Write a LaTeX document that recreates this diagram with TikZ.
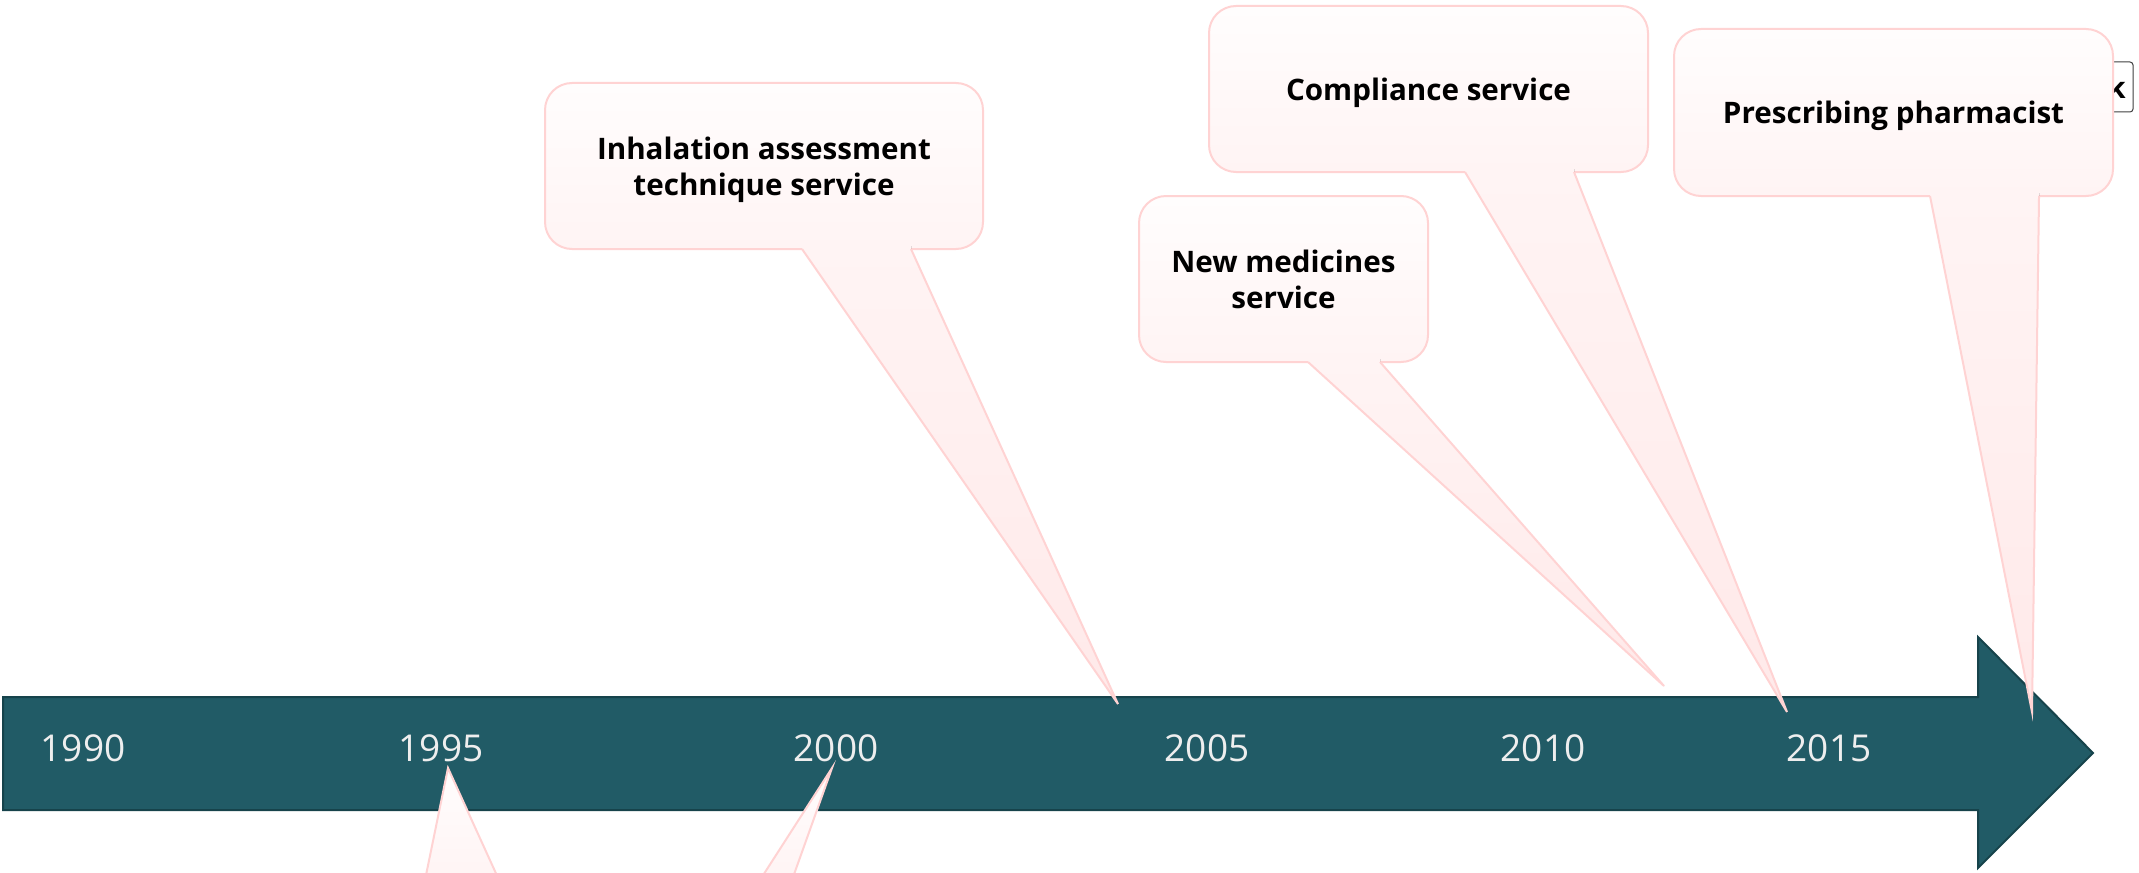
\documentclass[tikz,border=0pt]{standalone}
\usepackage{fontspec}
\setmainfont{Open Sans}
\usetikzlibrary{calc}

\definecolor{barteal}{HTML}{215B66}
\definecolor{barrim}{HTML}{16434B}
\definecolor{calloutrim}{HTML}{FFD3D3}
\definecolor{callouttop}{HTML}{FFFDFD}
\definecolor{calloutmid}{HTML}{FFF4F4}
\definecolor{callouttip}{HTML}{FFE9E9}
\definecolor{yeartext}{HTML}{EEEEEE}

\tikzset{
  calloutbox/.style={draw=calloutrim, line width=1pt, rounded corners=13.5pt, top color=callouttop, bottom color=calloutmid, align=center, font=\fontsize{14.8}{18}\selectfont\bfseries, inner sep=0pt, outer sep=0pt, text depth=0pt},
  callouttail/.style={top color=calloutmid, bottom color=callouttip},
  tailrim/.style={draw=calloutrim, line width=1pt},
  yearlabel/.style={text=yeartext, font=\fontsize{18.5}{20}\selectfont, inner sep=0pt},
}

\begin{document}
\begin{tikzpicture}[x=0.5pt,y=0.5pt,yscale=-1,xscale=1]
\useasboundingbox (0,0) rectangle (2139,872);

%Shape: Right Arrow (timeline)
\draw [fill=barteal, draw=barrim, line width=1pt] (3,697) -- (1978,697) -- (1978,637) -- (2093,753) -- (1978,868) -- (1978,810) -- (3,810) -- cycle;

% Text Node
\node [yearlabel] (y1990) at (83,748) {1990};
% Text Node
\node [yearlabel] (y1995) at (441,748) {1995};
% Text Node
\node [yearlabel] (y2000) at (836,748) {2000};
% Text Node
\node [yearlabel] (y2005) at (1207,748) {2005};
% Text Node
\node [yearlabel] (y2010) at (1543,748) {2010};
% Text Node
\node [yearlabel] (y2015) at (1829,748) {2015};

%Shape: Rectangle (hidden box, top right)
\node [draw=black!75, fill=white, line width=0.5pt, rounded corners=1.5pt, minimum width=16.5pt, minimum height=25pt, inner sep=0pt, font=\fontsize{14.8}{17}\selectfont\bfseries] (hidbox) at (2116.5,87) {k};

%Shape: Callout [inhalation]
\node [calloutbox, minimum width=219pt, minimum height=83pt] (inhal) at (764,166) {Inhalation assessment\\technique service};
\coordinate (inhaltip) at (1118,704);
\coordinate (inhalL) at ($(inhal.south west)+(257,0)$);
\coordinate (inhalR) at ($(inhal.south west)+(366,0)$);
\fill [callouttail] ($(inhalL)+(0,-3)$) -- (inhalL) -- (inhaltip) -- (inhalR) -- ($(inhalR)+(0,-3)$) -- cycle;
\draw [tailrim] (inhalL) -- (inhaltip) -- (inhalR);

%Shape: Callout [new medicines]
\node [calloutbox, minimum width=144.5pt, minimum height=83pt] (newmed) at (1283.5,279) {New medicines\\service};
\coordinate (newmedtip) at (1664,686);
\coordinate (newmedL) at ($(newmed.south west)+(169,0)$);
\coordinate (newmedR) at ($(newmed.south west)+(241,0)$);
\fill [callouttail] ($(newmedL)+(0,-3)$) -- (newmedL) -- (newmedtip) -- (newmedR) -- ($(newmedR)+(0,-3)$) -- cycle;
\draw [tailrim] (newmedL) -- (newmedtip) -- (newmedR);

%Shape: Callout [compliance]
\node [calloutbox, minimum width=219.5pt, minimum height=83pt] (compl) at (1428.5,89) {Compliance service};
\coordinate (compltip) at (1787,712);
\coordinate (complL) at ($(compl.south west)+(256,0)$);
\coordinate (complR) at ($(compl.south west)+(365,0)$);
\fill [callouttail] ($(complL)+(0,-3)$) -- (complL) -- (compltip) -- (complR) -- ($(complR)+(0,-3)$) -- cycle;
\draw [tailrim] (complL) -- (compltip) -- (complR);

%Shape: Callout [prescribing]
\node [calloutbox, minimum width=219.5pt, minimum height=83.5pt] (presc) at (1893.5,112.5) {Prescribing pharmacist};
\coordinate (presctip) at (2032,712);
\coordinate (prescL) at ($(presc.south west)+(256,0)$);
\coordinate (prescR) at ($(presc.south west)+(365,0)$);
\fill [callouttail] ($(prescL)+(0,-3)$) -- (prescL) -- (presctip) -- (prescR) -- ($(prescR)+(0,-3)$) -- cycle;
\draw [tailrim] (prescL) -- (presctip) -- (prescR);

%Shape: Callout tails from below (boxes out of view)
\coordinate (lowtipA) at (448,768);
\coordinate (lowAL) at (425,880);
\coordinate (lowAR) at (499,880);
\fill [top color=callouttop, bottom color=calloutmid] (lowAL) -- (lowtipA) -- (lowAR) -- cycle;
\draw [tailrim] (lowAL) -- (lowtipA) -- (lowAR);

\coordinate (lowtipB) at (832,768);
\coordinate (lowBL) at (760,880);
\coordinate (lowBR) at (792,880);
\fill [top color=callouttop, bottom color=calloutmid] (lowBL) -- (lowtipB) -- (lowBR) -- cycle;
\draw [tailrim] (lowBL) -- (lowtipB) -- (lowBR);

\end{tikzpicture}
\end{document}
